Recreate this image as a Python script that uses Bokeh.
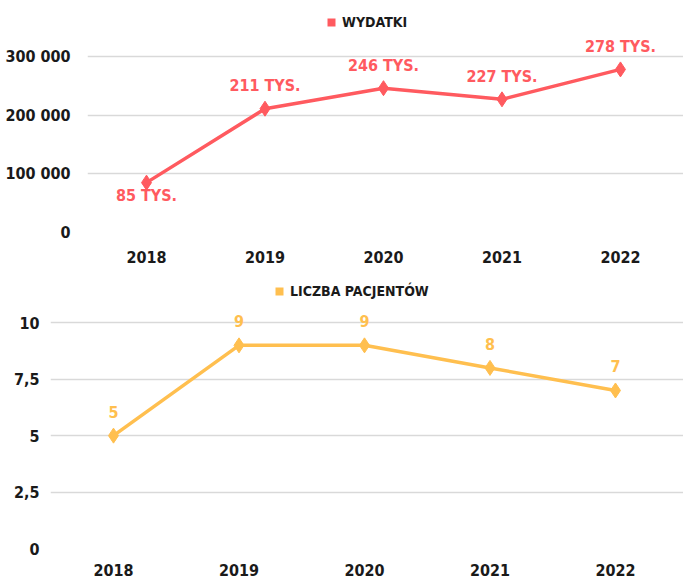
from bokeh.plotting import figure
from bokeh.models import Range1d, FixedTicker, Legend, LegendItem
from bokeh.core.properties import value
from bokeh.embed import file_html
from bokeh.resources import INLINE

# ---------------- data ----------------
years = [2018, 2019, 2020, 2021, 2022]
wydatki = [85000, 211000, 246000, 227000, 278000]
wydatki_labels = ["85 TYS.", "211 TYS.", "246 TYS.", "227 TYS.", "278 TYS."]
pacjenci = [5, 9, 9, 8, 7]
pacjenci_labels = ["5", "9", "9", "8", "7"]
top_ticks = [0, 100000, 200000, 300000]
top_tick_labels = ["0", "100 000", "200 000", "300 000"]
bottom_ticks = [0, 2.5, 5, 7.5, 10]
bottom_tick_labels = ["0", "2,5", "5", "7,5", "10"]
top_series_name = "WYDATKI"
bottom_series_name = "LICZBA PACJENTÓW"

# ---------------- style ----------------
FONT = "DejaVu Sans Condensed"
RED = "#FF5A5F"
ORANGE = "#FFBF4F"
TEXT = "#1A1A1A"
GRID = "#D9D9D9"


def make_chart(vals, labels, ticks, tick_labels, name, color, height,
               x_rng, y_end, border_left, border_bottom, label_offsets,
               legend_loc, y_standoff, x_standoff):
    p = figure(width=683, height=height, output_backend="svg",
               toolbar_location=None,
               x_range=Range1d(*x_rng), y_range=Range1d(0, y_end),
               min_border_left=border_left, min_border_right=0,
               min_border_top=0, min_border_bottom=border_bottom)
    p.outline_line_color = None
    p.background_fill_color = "white"
    p.border_fill_color = "white"

    p.xgrid.grid_line_color = None
    p.ygrid.ticker = FixedTicker(ticks=ticks)
    p.ygrid.grid_line_color = GRID
    p.ygrid.grid_line_width = 1.5

    p.xaxis.ticker = FixedTicker(ticks=years)
    p.xaxis.axis_line_color = None
    p.xaxis.major_tick_line_color = None
    p.xaxis.minor_tick_line_color = None
    p.xaxis.major_tick_out = 0
    p.xaxis.major_tick_in = 0
    p.xaxis.major_label_standoff = x_standoff
    p.xaxis.major_label_text_font = FONT
    p.xaxis.major_label_text_font_style = "bold"
    p.xaxis.major_label_text_font_size = "16px"
    p.xaxis.major_label_text_color = TEXT

    p.yaxis.ticker = FixedTicker(ticks=ticks)
    p.yaxis.major_label_overrides = {t: l for t, l in zip(ticks, tick_labels)}
    p.yaxis.axis_line_color = None
    p.yaxis.major_tick_line_color = None
    p.yaxis.minor_tick_line_color = None
    p.yaxis.major_tick_out = 0
    p.yaxis.major_tick_in = 0
    p.yaxis.major_label_standoff = y_standoff
    p.yaxis.major_label_text_font = FONT
    p.yaxis.major_label_text_font_style = "bold"
    p.yaxis.major_label_text_font_size = "16px"
    p.yaxis.major_label_text_color = TEXT

    # legend swatch renderer (hidden under the diamonds on the plot)
    sq = p.scatter(years, vals, marker="square", size=0,
                   fill_color=color, line_color=color, line_width=0)
    p.line(years, vals, line_color=color, line_width=3.5)
    p.scatter(years, vals, marker="diamond", size=15, fill_color=color,
              line_color=color)
    p.text(x=years, y=vals, text=labels, y_offset=label_offsets,
           text_align="center", text_baseline="middle",
           text_font=value(FONT), text_font_style="bold",
           text_font_size="16px", text_color=color)

    legend = Legend(items=[LegendItem(label=name, renderers=[sq])],
                    location=legend_loc, orientation="horizontal",
                    border_line_color=None, background_fill_alpha=0,
                    margin=0, padding=4, glyph_width=20, glyph_height=20,
                    label_height=20, label_standoff=1,
                    label_text_font=FONT, label_text_font_style="bold",
                    label_text_font_size="14px", label_text_color=TEXT)
    p.add_layout(legend)
    return p


p1 = make_chart(wydatki, wydatki_labels, top_ticks, top_tick_labels,
                top_series_name, RED, 269, (2017.502, 2022.532), 395455,
                87, 37, [13, -23, -23, -23, -23], (234, 200), 17, 18)
p2 = make_chart(pacjenci, pacjenci_labels, bottom_ticks, bottom_tick_labels,
                bottom_series_name, ORANGE, 313, (2017.498, 2022.542), 12.36,
                50, 34, [-24, -24, -24, -24, -24], (219, 247), 11, 15)

open("out.html", "w").write(file_html([p1, p2], INLINE))
